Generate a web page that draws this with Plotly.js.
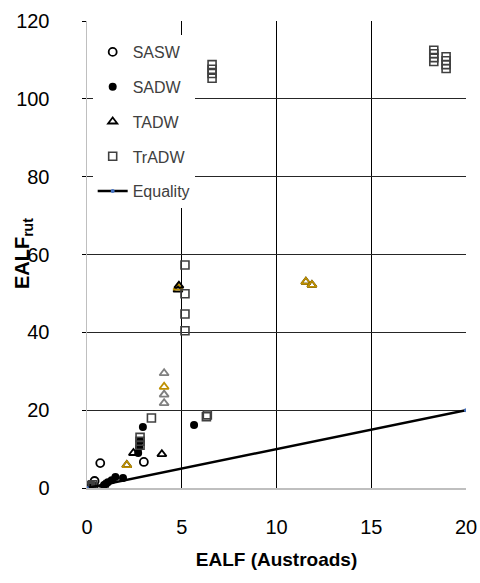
<!DOCTYPE html>
<html>
<head>
<meta charset="utf-8">
<script src="https://cdn.plot.ly/plotly-3.0.1.min.js"></script>
<style>html,body{margin:0;padding:0;background:#fff}#chart{width:480px;height:583px}</style>
</head>
<body>
<div id="chart"></div>
<script>
// SASW (open circles)
const saswX = [0.05, 0.1, 0.15, 0.2, 0.3, 0.4, 0.7, 3.0];
const saswY = [0.1, 0.3, 0.2, 0.5, 0.4, 1.8, 6.4, 6.7];
// SADW (filled circles)
const sadwX = [0.05, 0.1, 0.2, 0.3, 0.4, 0.9, 1.1, 1.3, 1.5, 1.9, 2.7, 2.75, 2.8, 2.95, 5.65];
const sadwY = [0.2, 0.1, 0.3, 0.2, 0.5, 0.8, 1.5, 2.0, 2.8, 2.6, 9.0, 10.5, 12.0, 15.7, 16.2];
// TADW (open triangles)
const tadwX = [0.1, 0.3, 0.9, 2.1, 2.1, 2.45, 3.95, 4.07, 4.07, 4.07, 4.07, 4.8, 4.8, 4.85, 11.55, 11.55, 11.87, 11.87];
const tadwY = [0.2, 0.5, 0.8, 5.9, 5.9, 9.0, 8.7, 21.8, 24.0, 26.0, 29.5, 51.0, 51.5, 52.0, 53.0, 53.0, 52.2, 52.2];
const tadwC = ['#000','#000','#000','#000','#bf9000','#000','#000','#7f7f7f','#7f7f7f','#bf9000','#7f7f7f','#000','#bf9000','#000','#000','#bf9000','#000','#bf9000'];
// TrADW (open squares)
const tradwX = [0.05, 0.1, 0.15, 0.2, 0.3, 2.8, 2.8, 2.8, 3.4, 5.17, 5.17, 5.17, 5.17, 6.3, 6.35, 6.6, 6.6, 6.6, 6.6, 18.3, 18.3, 18.3, 18.3, 18.95, 18.95, 18.95, 18.95];
const tradwY = [0.2, 0.4, 0.6, 0.3, 0.8, 11.0, 12.0, 13.0, 18.0, 40.4, 44.7, 49.9, 57.3, 18.3, 18.8, 105.3, 106.5, 107.6, 108.8, 109.6, 110.6, 111.6, 112.5, 107.8, 108.8, 109.8, 110.8];
// Equality line
const eqX = [0, 20];
const eqY = [0, 20];

const FONT = '"Liberation Sans", Arial, sans-serif';

const traces = [
  {x: saswX, y: saswY, name: 'SASW', type: 'scatter', mode: 'markers', legendgroup: 'a',
   marker: {symbol: 'circle-open', size: 8, color: '#000', line: {width: 1.8}}},
  {x: sadwX, y: sadwY, name: 'SADW', type: 'scatter', mode: 'markers', legendgroup: 'b',
   marker: {symbol: 'circle', size: 8, color: '#000'}},
  {x: tadwX, y: tadwY, name: 'TADW', type: 'scatter', mode: 'markers', legendgroup: 'c',
   marker: {symbol: 'triangle-up-open', size: 8, color: tadwC, line: {width: 1.8}}},
  {x: tradwX, y: tradwY, name: 'TrADW', type: 'scatter', mode: 'markers', legendgroup: 'd',
   marker: {symbol: 'square-open', size: 8, color: '#404040', line: {width: 1.6}}},
  {x: eqX, y: eqY, name: 'Equality', type: 'scatter', mode: 'lines+markers', legendgroup: 'e',
   line: {color: '#000', width: 2.5}, marker: {symbol: 'circle', size: 4, color: '#4472c4'}}
];

const layout = {
  width: 480, height: 583,
  margin: {l: 87, r: 14, t: 21, b: 95},
  paper_bgcolor: '#fff', plot_bgcolor: '#fff',
  font: {family: FONT, size: 20, color: '#000'},
  showlegend: true,
  legend: {x: 0.015, y: 0.97, xanchor: 'left', yanchor: 'top', bgcolor: '#fff',
           font: {family: FONT, size: 16, color: '#404040'}, tracegroupgap: 11, itemwidth: 30},
  xaxis: {range: [0, 20], dtick: 5, tick0: 0, showgrid: true, gridcolor: '#000', gridwidth: 1,
          zeroline: false, showline: true, linecolor: '#bfbfbf', linewidth: 1.5,
          ticks: '', ticklabelstandoff: 20,
          title: {text: '<b>EALF (Austroads)</b>', font: {family: FONT, size: 19, color: '#000'}, standoff: 16}},
  yaxis: {range: [0, 120], dtick: 20, tick0: 0, showgrid: true, gridcolor: '#262626', gridwidth: 1,
          zeroline: false, showline: true, linecolor: '#bfbfbf', linewidth: 1.5,
          ticks: 'outside', ticklen: 4, tickcolor: '#000', ticklabelstandoff: 28},
  annotations: [
    {text: '<b>EALF<sub>rut</sub></b>', xref: 'paper', yref: 'paper', x: -0.169, y: 0.503,
     xanchor: 'center', yanchor: 'middle', textangle: -90, showarrow: false,
     font: {family: FONT, size: 20, color: '#000'}}
  ]
};

Plotly.newPlot('chart', traces, layout, {displayModeBar: false, staticPlot: true});
</script>
</body>
</html>
